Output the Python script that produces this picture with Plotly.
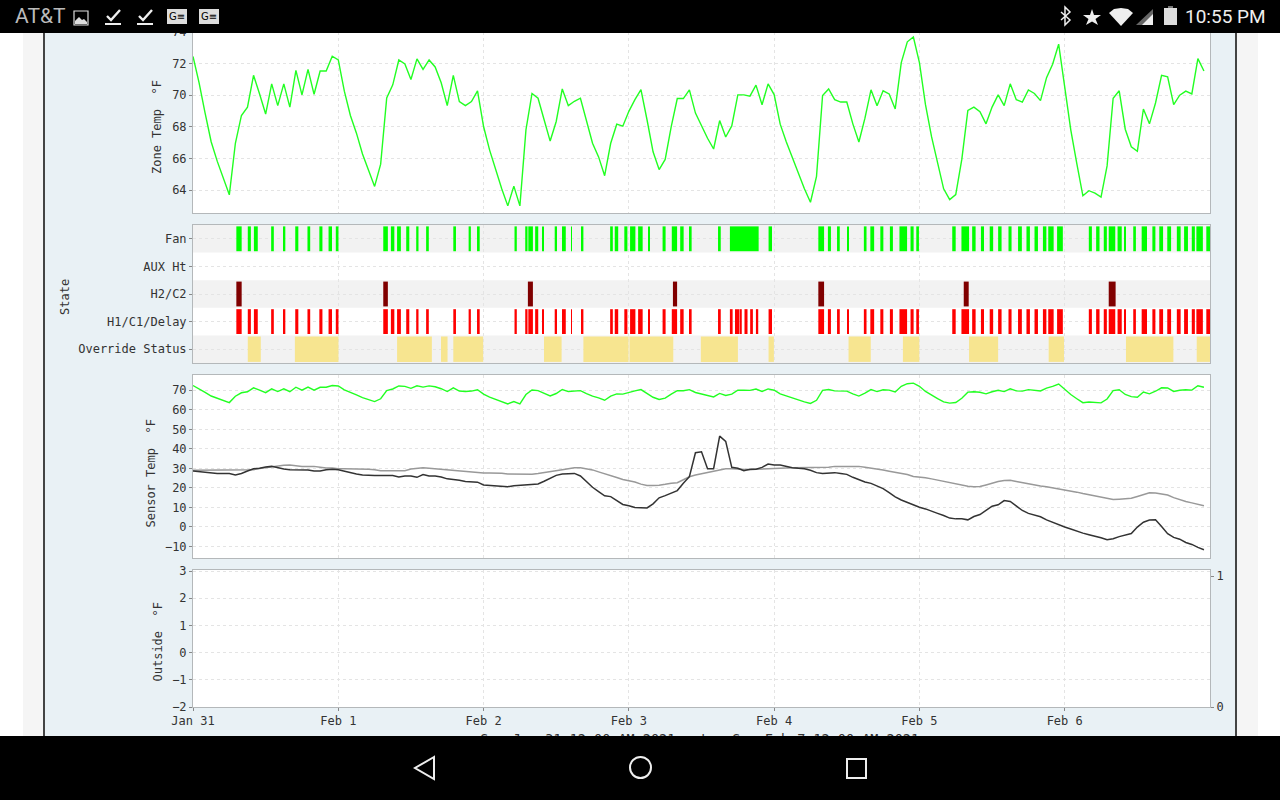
"""
Thermostat history chart: zone temp, equipment state, sensors, outside temp
seen through a phone screenshot
"""

import pandas as pd
import plotly.graph_objects as go

W, H = 1280, 800
START = pd.Timestamp('2021-01-31 00:00')

day_ticks = pd.date_range(START, periods=7, freq='D')
day_labels = ['Jan 31', 'Feb 1', 'Feb 2', 'Feb 3', 'Feb 4', 'Feb 5', 'Feb 6']
state_names = ['Override Status', 'H1/C1/Delay', 'H2/C2', 'AUX Ht', 'Fan']
date_caption = 'Sun Jan 31 12:00 AM 2021\u00a0\u00a0\u00a0to\u00a0\u00a0Sun Feb 7 12:00 AM 2021'

# hourly readings, deg F
zone_temp = [
    72.45, 70.8, 68.87, 67.06, 65.83, 64.83, 63.7, 66.96, 68.72, 69.25, 71.26, 70.08,
    68.81, 70.72, 69.34, 70.72, 69.25, 71.57, 70.02, 71.64, 70.06, 71.53, 71.53, 72.47,
    72.23, 70.26, 68.72, 67.6, 66.28, 65.25, 64.23, 65.64, 69.83, 70.66, 72.23, 71.98,
    71.0, 72.3, 71.64, 72.23, 71.79, 70.79, 69.34, 71.26, 69.6, 69.34, 69.6, 70.28,
    68.02, 66.53, 65.25, 64.08, 63.0, 64.25, 63.0, 67.81, 70.11, 69.81, 68.45, 67.1,
    68.34, 70.4, 69.34, 69.62, 69.81, 68.34, 66.96, 66.1, 64.91, 66.96, 68.17, 68.04,
    68.98, 69.72, 70.36, 68.45, 66.42, 65.3, 65.94, 68.02, 69.79, 69.79, 70.34, 68.87,
    68.02, 67.28, 66.6, 68.4, 67.36, 68.06, 70.02, 70.02, 69.94, 70.64, 69.4, 70.72,
    70.04, 68.17, 67.06, 66.06, 65.15, 64.08, 63.23, 64.87, 69.98, 70.4, 69.72, 69.57,
    69.57, 68.19, 67.04, 68.55, 70.34, 69.34, 70.28, 70.08, 69.13, 72.06, 73.38, 73.68,
    72.06, 69.4, 67.38, 65.68, 64.08, 63.4, 63.72, 65.94, 69.04, 69.25, 68.96, 68.19,
    69.25, 70.02, 69.34, 70.72, 69.72, 69.57, 70.34, 70.11, 69.66, 71.11, 71.96, 73.23,
    70.57, 67.81, 65.68, 63.64, 63.96, 63.81, 63.55, 65.53, 69.81, 70.28, 67.85, 66.74,
    66.45, 69.13, 68.19, 69.51, 71.26, 71.17, 69.4, 70.0, 70.26, 70.08, 72.32, 71.53,
]
sensor_gray = [
    29.0, 29.0, 29.1, 29.0, 29.0, 29.1, 29.0, 29.0, 29.1, 29.1, 29.3, 29.9,
    30.4, 30.9, 31.2, 31.6, 31.7, 31.2, 31.0, 31.0, 31.0, 30.6, 30.2, 30.2,
    29.8, 29.8, 29.8, 29.6, 29.5, 29.5, 29.3, 28.8, 28.7, 28.7, 28.7, 28.8,
    29.6, 29.9, 30.3, 30.1, 29.8, 29.7, 29.2, 29.0, 28.8, 28.5, 28.3, 28.0,
    27.6, 27.6, 27.6, 27.5, 27.1, 27.0, 27.0, 27.0, 27.0, 27.4, 27.8, 28.2,
    28.6, 29.3, 29.8, 30.3, 30.3, 29.9, 29.2, 28.2, 27.1, 26.4, 25.3, 24.3,
    23.6, 23.0, 21.9, 21.2, 21.2, 21.3, 21.8, 22.4, 22.6, 24.0, 25.7, 26.6,
    27.3, 27.8, 28.6, 29.2, 29.8, 29.8, 29.6, 29.2, 29.3, 29.5, 29.7, 29.9,
    30.0, 30.1, 30.2, 30.3, 30.3, 30.4, 30.4, 30.4, 30.5, 30.6, 31.0, 31.0,
    31.0, 31.0, 31.0, 30.6, 30.2, 29.7, 29.1, 28.5, 27.9, 27.3, 26.8, 25.8,
    25.6, 25.2, 24.6, 24.0, 23.5, 22.9, 22.3, 21.7, 20.8, 20.6, 20.7, 21.5,
    22.5, 23.2, 23.8, 23.9, 23.3, 22.7, 22.0, 21.5, 21.0, 20.6, 20.1, 19.6,
    19.0, 18.4, 17.8, 17.1, 16.4, 15.9, 15.2, 14.6, 14.0, 14.2, 14.4, 14.7,
    15.6, 16.6, 17.5, 17.4, 16.9, 16.3, 15.0, 13.8, 13.0, 12.3, 11.5, 10.8,
]
sensor_black = [
    28.6, 28.3, 28.0, 27.4, 27.4, 27.4, 27.4, 26.6, 27.4, 28.6, 29.8, 30.0,
    30.7, 31.0, 30.3, 29.7, 29.3, 29.3, 29.3, 29.2, 28.6, 28.6, 29.3, 29.5,
    29.3, 28.5, 27.8, 27.1, 26.6, 26.3, 26.3, 26.3, 26.3, 26.3, 25.6, 26.1,
    26.1, 25.4, 26.8, 26.1, 26.1, 25.6, 24.6, 24.4, 23.9, 23.2, 23.0, 22.9,
    21.5, 21.3, 21.0, 20.6, 20.6, 21.1, 21.3, 21.3, 21.7, 22.0, 23.4, 25.1,
    26.4, 27.1, 27.4, 27.4, 26.1, 23.2, 20.3, 18.1, 15.9, 15.5, 13.5, 11.5,
    10.8, 9.9, 9.8, 9.7, 11.8, 14.9, 16.0, 17.2, 18.6, 22.3, 25.7, 38.0,
    38.5, 29.8, 29.8, 46.5, 43.8, 30.5, 30.0, 28.8, 29.5, 29.5, 30.5, 32.2,
    31.7, 31.7, 30.9, 30.3, 30.0, 29.8, 29.0, 27.8, 27.3, 27.4, 27.8, 27.4,
    26.9, 25.4, 24.0, 23.0, 22.3, 20.8, 19.6, 17.6, 15.4, 13.8, 12.5, 11.0,
    10.1, 9.2, 7.9, 6.9, 5.8, 4.5, 4.1, 4.1, 3.6, 5.3, 6.3, 8.6,
    10.6, 11.3, 13.5, 13.0, 10.8, 8.4, 6.9, 6.2, 5.2, 3.6, 2.3, 0.9,
    -0.1, -1.1, -2.3, -3.2, -4.0, -4.7, -5.6, -6.6, -6.1, -5.0, -4.0, -3.4,
    -0.1, 2.4, 3.5, 3.6, 0.2, -3.5, -5.4, -6.3, -8.0, -9.0, -10.5, -11.7,
]

# (on, off) in hours after START
fan_runs = [
    (7.16, 8.04), (9.05, 9.56), (10.06, 10.7), (12.91, 13.35), (14.87, 15.25), (16.89, 17.4),
    (18.91, 19.36), (20.87, 21.38), (22.39, 22.96), (23.59, 24.03), (31.43, 32.19),
    (32.69, 33.26), (33.71, 34.34), (35.22, 35.73), (36.87, 37.25), (38.51, 38.95),
    (43.0, 43.44), (45.53, 45.9), (46.92, 47.36), (53.11, 53.49), (54.88, 55.26),
    (55.39, 56.15), (56.52, 57.03), (57.72, 57.91), (59.75, 60.13), (60.95, 61.58),
    (62.47, 62.59), (64.17, 64.49), (68.91, 69.35), (69.67, 70.24), (71.25, 71.76),
    (72.2, 73.08), (73.53, 74.28), (75.17, 75.36), (77.57, 78.07), (79.09, 79.97),
    (80.48, 81.05), (81.93, 82.37), (86.73, 87.18), (88.69, 93.44), (95.08, 95.65),
    (103.3, 104.25), (104.88, 105.38), (106.39, 106.84), (108.1, 108.35), (110.82, 111.26),
    (111.89, 112.52), (113.54, 114.04), (115.12, 115.62), (116.7, 117.96), (118.53, 119.04),
    (119.48, 119.92), (125.42, 125.99), (126.94, 128.2), (128.71, 129.28), (130.16, 130.67),
    (131.61, 132.18), (133.0, 133.57), (134.71, 135.22), (136.29, 136.92), (137.68, 138.25),
    (139.01, 139.58), (140.4, 140.97), (141.28, 142.17), (142.74, 143.69), (147.98, 148.49),
    (149.19, 149.75), (150.45, 150.96), (151.27, 152.35), (152.73, 153.42), (153.93, 154.12),
    (155.32, 155.76), (156.71, 157.59), (158.48, 158.98), (159.62, 160.25), (160.94, 161.57),
    (162.52, 163.15), (163.72, 164.36), (164.99, 165.5), (165.75, 166.82), (167.39, 168.0),
]
# H1 is the fan pattern except for the long fan-only block on Feb 3
h1_split = [
    (88.69, 89.14), (89.58, 89.77), (89.9, 90.15), (90.27, 90.65),
    (91.1, 91.6), (92.04, 92.49), (92.99, 93.37),
]
h1_runs = [r for r in fan_runs if r != (88.69, 93.44)] + h1_split
h2_runs = [
    (7.16, 8.04), (31.43, 32.19), (55.32, 56.15), (79.28, 79.97),
    (103.3, 104.25), (127.32, 128.14), (151.27, 152.41),
]
override_runs = [
    (9.05, 11.2), (16.83, 24.03), (33.71, 39.46), (40.97, 42.05), (43.0, 47.93),
    (57.98, 60.89), (64.49, 71.95), (72.1, 79.34), (83.89, 90.02), (95.08, 95.96),
    (108.29, 111.96), (117.27, 119.98), (128.2, 133.0), (141.35, 143.88),
    (154.12, 161.95), (165.81, 168.0),
]

MONO = 'DejaVu Sans Mono'
SANS = 'DejaVu Sans'
GRID = '#e4e4e4'
BORDER = '#b4b8ba'
PANEL = '#e9f1f5'


def hourly(values):
    return pd.date_range(START, periods=len(values), freq='h')


def run_bars(name, runs, color, width):
    starts = [START + pd.Timedelta(hours=a) for a, _ in runs]
    return go.Bar(
        y=[name] * len(runs),
        x=[(b - a) * 3600000 for a, b in runs],
        base=starts,
        orientation='h',
        width=width,
        marker=dict(color=color, line_width=0),
        xaxis='x2', yaxis='y2',
    )


def dom(top, bottom):
    return [1 - bottom / H, 1 - top / H]


def px_shape(kind, x0, y0, x1, y1, **kw):
    return dict(
        type=kind, xref='paper', yref='paper',
        x0=x0 / W, x1=x1 / W, y0=1 - y0 / H, y1=1 - y1 / H,
        line_width=kw.pop('line_width', 0), layer=kw.pop('layer', 'above'), **kw,
    )


def path_shape(points, fill=None, color='#ddd', width=0, close=True):
    # chrome icons, points in screen pixels
    d = 'M' + ' L'.join(f'{x / W:.5f},{1 - y / H:.5f}' for x, y in points) + (' Z' if close else '')
    return dict(
        type='path', xref='paper', yref='paper', path=d, layer='above',
        fillcolor=fill if fill else 'rgba(0,0,0,0)',
        line=dict(color=color, width=width),
    )


def label(text, x, y, size=12, color='#333', font=MONO, angle=0, anchor='center'):
    return dict(
        text=text, x=x / W, y=1 - y / H, xref='paper', yref='paper',
        showarrow=False, textangle=angle, xanchor=anchor, yanchor='middle',
        font=dict(family=font, size=size, color=color),
    )


fig = go.Figure()

# zone temp
fig.add_trace(go.Scatter(
    x=hourly(zone_temp), y=zone_temp, mode='lines',
    line=dict(color='#22ff22', width=1.4), xaxis='x', yaxis='y',
))

# equipment state
fig.add_trace(run_bars('Fan', fan_runs, '#00ff00', 0.9))
fig.add_trace(run_bars('H2/C2', h2_runs, '#800000', 0.9))
fig.add_trace(run_bars('H1/C1/Delay', h1_runs, '#ff0000', 0.9))
fig.add_trace(run_bars('Override Status', override_runs, '#f7e590', 0.92))

# sensors
fig.add_trace(go.Scatter(
    x=hourly(zone_temp), y=zone_temp, mode='lines',
    line=dict(color='#22ff22', width=1.4), xaxis='x3', yaxis='y3',
))
fig.add_trace(go.Scatter(
    x=hourly(sensor_gray), y=sensor_gray, mode='lines',
    line=dict(color='#999999', width=1.5), xaxis='x3', yaxis='y3',
))
fig.add_trace(go.Scatter(
    x=hourly(sensor_black), y=sensor_black, mode='lines',
    line=dict(color='#333333', width=1.5), xaxis='x3', yaxis='y3',
))

# outside panel has no data, the empty traces only keep its axes alive
fig.add_trace(go.Scatter(x=[], y=[], xaxis='x4', yaxis='y4'))
fig.add_trace(go.Scatter(x=[], y=[], xaxis='x4', yaxis='y5'))
fig.add_trace(go.Scatter(x=[], y=[], xaxis='x5', yaxis='y4'))

x_common = dict(
    type='date',
    range=[START, START + pd.Timedelta(days=7)],
    tickvals=list(day_ticks),
    showgrid=True, gridcolor=GRID, griddash='3px,3px', gridwidth=1,
    showline=True, mirror=True, linecolor=BORDER, linewidth=1,
    zeroline=False,
)
y_common = dict(
    showgrid=True, gridcolor=GRID, griddash='3px,3px', gridwidth=1,
    showline=True, mirror=True, linecolor=BORDER, linewidth=1,
    zeroline=False, ticks='outside', ticklen=3, tickcolor='#888',
    tickfont=dict(family=MONO, size=12, color='#333'),
)
x_hidden = dict(x_common, showticklabels=False, ticks='')
x_dom = [193 / W, 1210 / W]

# band stripes behind the state rows
stripes = [
    dict(
        type='rect', xref='x2 domain', yref='y2 domain', x0=0, x1=1,
        y0=i / 5, y1=(i + 1) / 5, fillcolor='#f2f2f2', line_width=0, layer='below',
    )
    for i in (0, 2, 4)
]

chrome = [
    # page edges either side of the panel
    px_shape('rect', 0, 0, 23, H, fillcolor='#ffffff', layer='below'),
    px_shape('rect', 23, 0, 43, H, fillcolor='#f5f5f5', layer='below'),
    px_shape('rect', 43, 0, 45, H, fillcolor='#444444', layer='below'),
    px_shape('rect', 1235, 0, 1237, H, fillcolor='#444444', layer='below'),
    px_shape('rect', 1237, 0, 1258, H, fillcolor='#f5f5f5', layer='below'),
    px_shape('rect', 1258, 0, W, H, fillcolor='#ffffff', layer='below'),
    # status and navigation bars cover the page
    px_shape('rect', 0, 0, W, 33, fillcolor='#000000'),
    px_shape('rect', 0, 736, W, H, fillcolor='#000000'),
    # picture icon
    px_shape('rect', 74, 11, 88, 25, line_color='#ddd', line_width=1.2),
    path_shape([(75, 24), (75, 21), (79, 17), (82, 20), (84, 19), (87, 22), (87, 24)], fill='#ddd'),
    # check marks
    path_shape([(107, 16), (111, 20), (120, 10)], color='#eee', width=2.4, close=False),
    px_shape('rect', 105, 23, 121, 25, fillcolor='#eee'),
    path_shape([(139, 16), (143, 20), (152, 10)], color='#eee', width=2.4, close=False),
    px_shape('rect', 137, 23, 153, 25, fillcolor='#eee'),
    # app boxes
    px_shape('rect', 167, 9, 187, 24, fillcolor='#dddddd'),
    px_shape('rect', 199, 9, 219, 24, fillcolor='#dddddd'),
    # bluetooth, star, wifi, signal, battery
    path_shape([(1061, 12), (1070, 20), (1065, 25), (1065, 7), (1070, 12), (1061, 20)],
               color='#eee', width=1.5, close=False),
    path_shape([(1092, 9), (1094, 15), (1101, 15), (1095.5, 19), (1098, 25), (1092, 21.5),
                (1086, 25), (1088.5, 19), (1083, 15), (1090, 15)], fill='#eeeeee'),
    path_shape([(1109, 13), (1114, 9), (1121, 8), (1128, 9), (1133, 13), (1121, 26)], fill='#eeeeee'),
    path_shape([(1153, 9), (1153, 25), (1136, 25)], fill='#666666'),
    path_shape([(1153, 14), (1153, 25), (1142, 25)], fill='#eeeeee'),
    px_shape('rect', 1164, 8, 1177, 25, fillcolor='#dddddd'),
    px_shape('rect', 1168, 6, 1173, 8, fillcolor='#777777'),
    # back, home, recents
    path_shape([(434, 757), (415, 768), (434, 779)], color='#eee', width=2),
    px_shape('circle', 630, 757, 651, 778, line_color='#eee', line_width=2),
    px_shape('rect', 847, 759, 866, 778, line_color='#eee', line_width=2),
]

fig.update_layout(
    width=W, height=H, autosize=False,
    margin=dict(l=0, r=0, t=0, b=0, autoexpand=False),
    paper_bgcolor=PANEL, plot_bgcolor='#ffffff',
    showlegend=False, barmode='overlay', hovermode=False,
    xaxis=dict(x_hidden, domain=x_dom, anchor='y'),
    xaxis2=dict(x_hidden, domain=x_dom, anchor='y2'),
    xaxis3=dict(x_hidden, domain=x_dom, anchor='y3'),
    xaxis4=dict(
        x_common, domain=x_dom, anchor='y4', ticktext=day_labels,
        ticks='outside', ticklen=3, tickcolor='#888',
        tickfont=dict(family=MONO, size=12, color='#333'),
    ),
    # the date caption sits under the nav bar, a long invisible tick pushes it down
    xaxis5=dict(
        type='date', domain=x_dom, anchor='y4', overlaying='x4', side='bottom',
        range=[START, START + pd.Timedelta(days=7)],
        tickvals=[START + pd.Timedelta(hours=83.7)], ticktext=[date_caption],
        ticks='outside', ticklen=20, tickcolor='rgba(0,0,0,0)',
        tickfont=dict(family=MONO, size=13.5, color='#333'),
        showgrid=False, showline=False, zeroline=False,
    ),
    yaxis=dict(y_common, domain=dom(20, 213), anchor='x', range=[62.55, 74.76], dtick=2, tick0=0),
    yaxis2=dict(
        y_common, domain=dom(225, 363), anchor='x2', type='category',
        categoryorder='array', categoryarray=state_names,
        tickvals=state_names, range=[-0.5, 4.5],
    ),
    yaxis3=dict(y_common, domain=dom(375, 558), anchor='x3', range=[-15.95, 77.83], dtick=10, tick0=0),
    yaxis4=dict(y_common, domain=dom(570, 707), anchor='x4', range=[-2, 3.04], dtick=1, tick0=0),
    yaxis5=dict(
        y_common, domain=dom(570, 707), anchor='x4', overlaying='y4', side='right',
        range=[0, 1.046], tickvals=[0, 1], showgrid=False, mirror=False,
    ),
    shapes=stripes + chrome,
    annotations=[
        label('Zone Temp\u00a0\u00a0°F', 157, 127, angle=-90),
        label('State', 65, 297, angle=-90),
        label('Sensor Temp\u00a0\u00a0°F', 150.5, 474, angle=-90),
        label('Outside\u00a0\u00a0°F', 157, 642.5, angle=-90),
        label('AT&T', 13, 16, size=21, color='#bbbbbb', font='Roboto', anchor='left'),
        label('10:55 PM', 1268, 17, size=19, color='#eeeeee', font='Roboto', anchor='right'),
        label('G≡', 177, 17, size=10, color='#000', font=SANS),
        label('G≡', 209, 17, size=10, color='#000', font=SANS),
    ],
)

fig.write_html(
    'out.html',
    config={'displayModeBar': False},
    post_script="document.body.style.margin='0';",
)
